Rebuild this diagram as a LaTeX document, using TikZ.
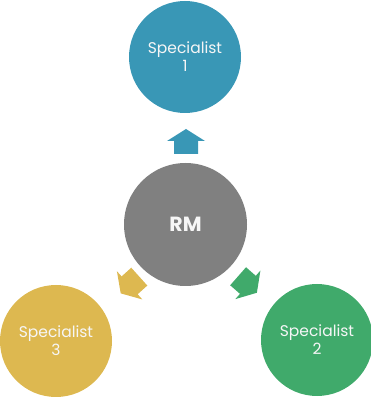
\documentclass[tikz,border=0pt]{standalone}
\usepackage{fontspec}
\setmainfont{Poppins}
\definecolor{rmgrey}{RGB}{128,128,128}
\definecolor{specblue}{RGB}{57,151,182}
\definecolor{specgreen}{RGB}{64,170,107}
\definecolor{specgold}{RGB}{221,184,80}
\definecolor{labelwhite}{RGB}{246,246,246}
\begin{document}
\begin{tikzpicture}[x=1pt,y=1pt,
  hub/.style={circle, fill=rmgrey, minimum size=123pt, inner sep=0pt,
    text=labelwhite, font=\fontsize{20.5}{22}\selectfont\bfseries},
  spec/.style={circle, minimum size=112pt, inner sep=0pt, text=labelwhite,
    align=center, font=\fontsize{15.5}{18}\selectfont},
  flowarrow/.pic={\fill[pic actions] (-12.5,-12) -- (0.5,-12) -- (0.5,-19)
    -- (12.5,0) -- (0.5,19) -- (0.5,12) -- (-12.5,12) -- cycle;}]
\useasboundingbox (0,0) rectangle (371,400);
\node[hub] (rm) at (185.5,175.5) {RM};
\node[spec, fill=specblue] (s1) at (185,343) {Specialist\\1};
\node[spec, fill=specgreen] (s2) at (317,60) {Specialist\\2};
\node[spec, fill=specgold] (s3) at (56,59) {Specialist\\3};
% arrows pointing from the hub towards each specialist
\pic[fill=specblue, rotate=90] (a1) at (186,258.5) {flowarrow};
\pic[fill=specgreen, rotate=-41.3] (a2) at (247.5,115.5) {flowarrow};
\pic[fill=specgold, rotate=222] (a3) at (130,115) {flowarrow};
\end{tikzpicture}
\end{document}
